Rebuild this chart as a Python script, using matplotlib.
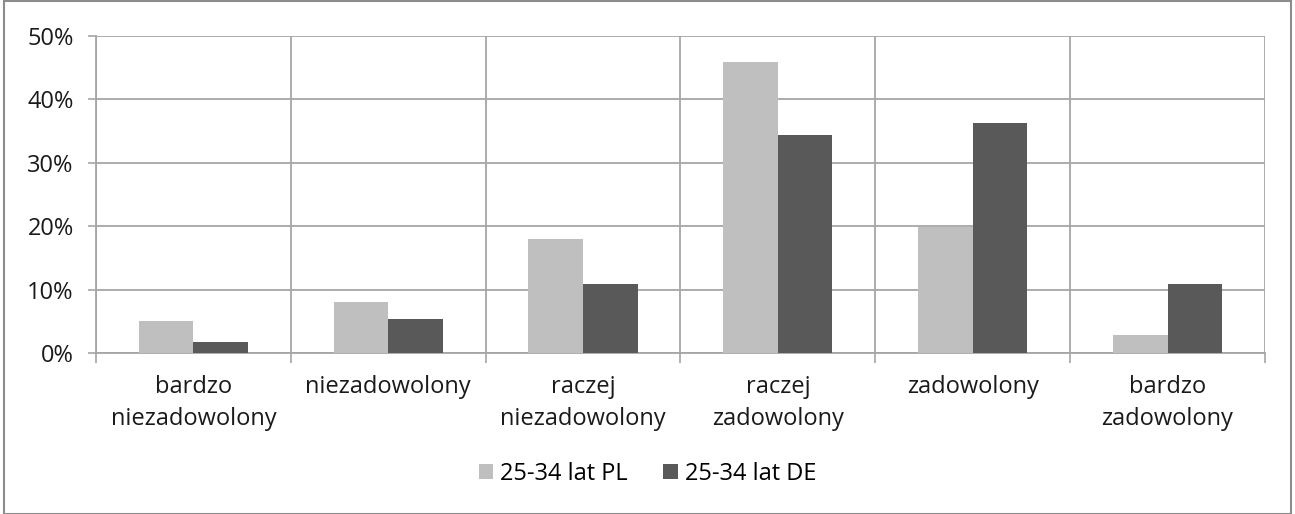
import numpy as np
import matplotlib
matplotlib.use('Agg')
import matplotlib.pyplot as plt
from matplotlib.ticker import PercentFormatter
from matplotlib.patches import Rectangle

plt.rcParams['font.family'] = ['Open Sans', 'DejaVu Sans']

# Data
categories = ['bardzo\nniezadowolony', 'niezadowolony', 'raczej\nniezadowolony',
              'raczej\nzadowolony', 'zadowolony', 'bardzo\nzadowolony']
pl_values = [5.0, 8.0, 18.0, 45.9, 19.9, 2.9]
de_values = [1.8, 5.3, 10.8, 34.4, 36.3, 10.8]
series_names = ['25-34 lat PL', '25-34 lat DE']

fig = plt.figure(figsize=(12.95, 5.14), dpi=100)
ax = fig.add_axes([0.0741, 0.3132, 0.9027, 0.6173])

x = np.arange(len(categories))
w = 0.28
grid_col = '#a6a6a6'
txt_col = '#1a1a1a'
fs = 17

ax.bar(x - w / 2, pl_values, w, color='#bfbfbf', label=series_names[0], zorder=3)
ax.bar(x + w / 2, de_values, w, color='#595959', label=series_names[1], zorder=3)

ax.set_xlim(-0.5, len(categories) - 0.5)
ax.set_ylim(0, 50)
ax.set_yticks(range(0, 51, 10))
ax.yaxis.set_major_formatter(PercentFormatter(decimals=0))

# category labels centred, ticks on boundaries
ax.set_xticks(x)
ax.set_xticklabels(categories, fontsize=fs, color=txt_col, linespacing=1.45)
ax.tick_params(axis='x', length=0, pad=16)
ax.set_xticks(np.arange(-0.5, len(categories)), minor=True)
ax.tick_params(axis='x', which='minor', length=7, color=grid_col, width=1.2)
ax.tick_params(axis='y', length=6, color=grid_col, width=1.2, labelsize=fs,
               labelcolor=txt_col, pad=10)

ax.grid(axis='y', color=grid_col, linewidth=1.3, zorder=0)
ax.grid(axis='x', which='minor', color=grid_col, linewidth=1.3, zorder=0)
for side in ['top', 'right']:
    ax.spines[side].set_visible(False)
ax.spines['left'].set_color(grid_col)
ax.spines['bottom'].set_color(grid_col)
ax.spines['left'].set_linewidth(1.3)
ax.spines['bottom'].set_linewidth(1.3)

fig.legend(loc='center', bbox_to_anchor=(0.5, 0.078), ncol=2, frameon=False,
           fontsize=fs, handlelength=0.6, handleheight=0.6, handletextpad=0.3,
           columnspacing=1.5)

# outer chart border
fig.patches.append(Rectangle((0.003, 0.0), 0.994, 0.999, transform=fig.transFigure,
                             fill=False, edgecolor='#8c8c8c', linewidth=1.5))

fig.savefig('out.png', dpi=100)
